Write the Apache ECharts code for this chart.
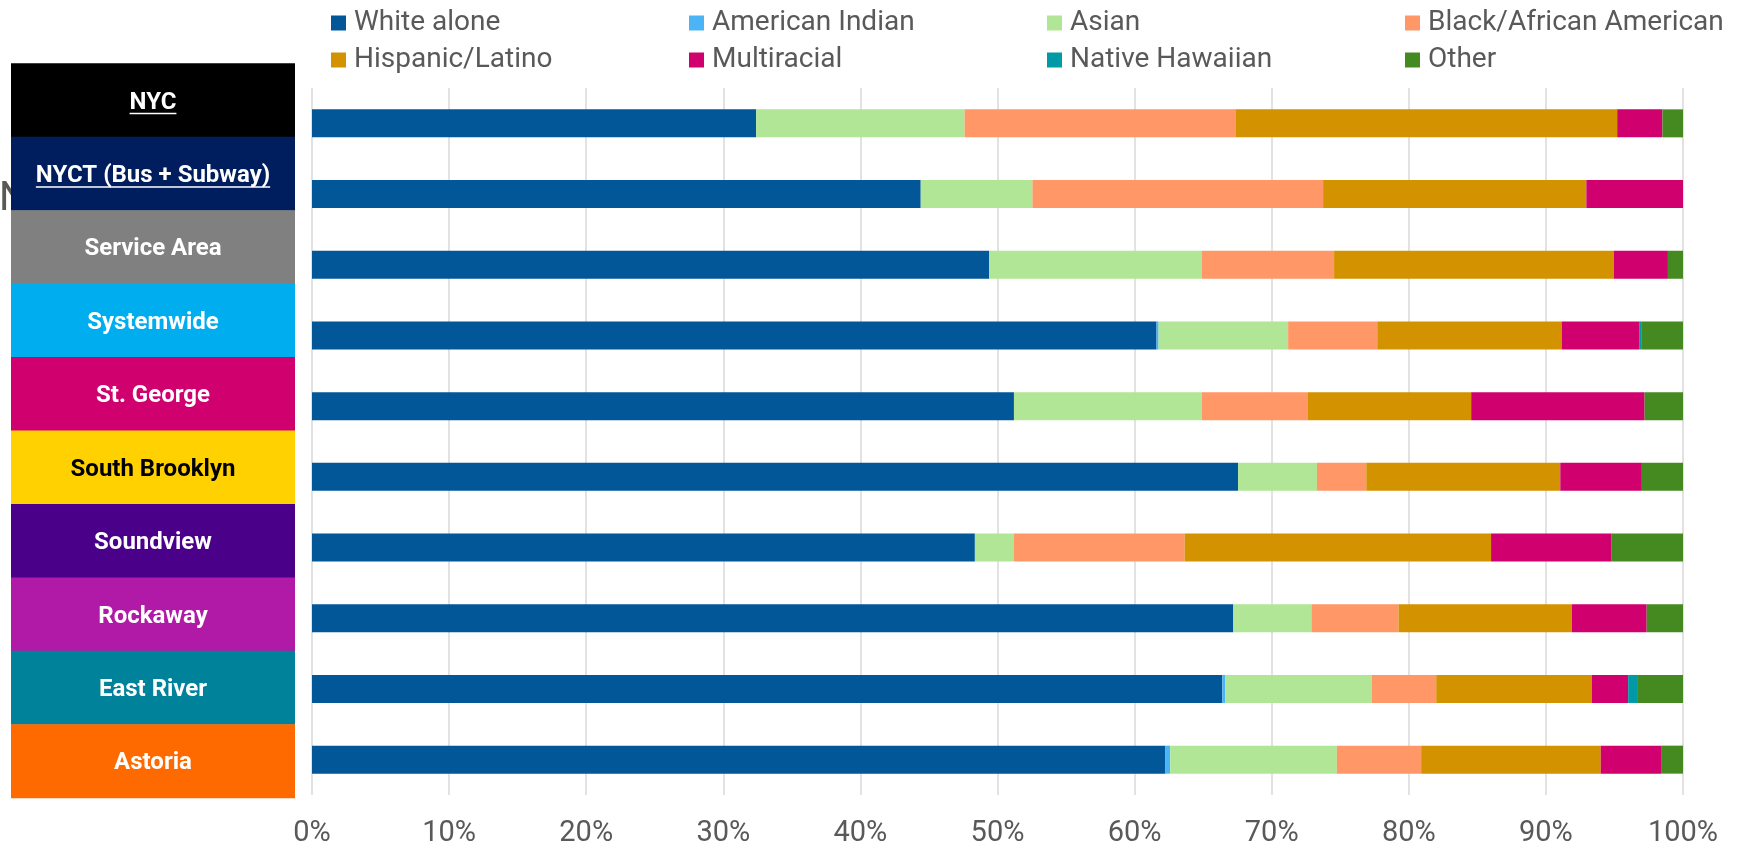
<!DOCTYPE html>
<html>
<head>
<meta charset="utf-8">
<title>Ridership by race/ethnicity</title>
<script src="https://cdn.jsdelivr.net/npm/echarts@6/dist/echarts.min.js"></script>
<style>
  html, body { margin: 0; padding: 0; background: #fff; }
  #chart { width: 1748px; height: 848px; }
</style>
</head>
<body>
<div id="chart"></div>
<script>
// Categories, top to bottom
const categories = ['NYC', 'NYCT (Bus + Subway)', 'Service Area', 'Systemwide', 'St. George',
  'South Brooklyn', 'Soundview', 'Rockaway', 'East River', 'Astoria'];

// Share of riders (%) per group
const whiteAlone     = [32.4, 44.4, 49.4, 61.6, 51.2, 67.55, 48.35, 67.2, 66.4, 62.25];
const americanIndian = [0, 0, 0, 0.15, 0, 0, 0, 0, 0.2, 0.35];
const asian          = [15.2, 8.15, 15.5, 9.45, 13.7, 5.75, 2.85, 5.7, 10.7, 12.15];
const blackAfrican   = [19.75, 21.2, 9.65, 6.5, 7.7, 3.6, 12.45, 6.35, 4.7, 6.15];
const hispanicLatino = [27.85, 19.2, 20.4, 13.45, 11.95, 14.15, 22.35, 12.65, 11.35, 13.1];
const multiracial    = [3.3, 7.05, 3.95, 5.65, 12.65, 5.95, 8.8, 5.45, 2.65, 4.4];
const nativeHawaiian = [0, 0, 0, 0.2, 0, 0, 0, 0, 0.65, 0];
const other          = [1.5, 0, 1.1, 3.0, 2.8, 3.0, 5.2, 2.65, 3.35, 1.6];

const seriesNames = ['White alone', 'American Indian', 'Asian', 'Black/African American',
  'Hispanic/Latino', 'Multiracial', 'Native Hawaiian', 'Other'];
const seriesData = [whiteAlone, americanIndian, asian, blackAfrican,
  hispanicLatino, multiracial, nativeHawaiian, other];
const seriesColors = ['#015798', '#4AB4F5', '#B0E695', '#FF9767',
  '#D39200', '#D0006F', '#0099A6', '#448A21'];

// Axis tick values
const xTicks = { min: 0, max: 100, interval: 10 };

// Category badge colours
const badgeFill = ['#000000', '#001E5E', '#808080', '#00AEEF', '#D0006F',
  '#FFD100', '#4A0089', '#B01AA7', '#00829B', '#FF6A00'];
const badgeText = ['#fff', '#fff', '#fff', '#fff', '#fff', '#000', '#fff', '#fff', '#fff', '#fff'];
const underlined = [true, true, false, false, false, false, false, false, false, false];

const FONT = 'Roboto, "Noto Sans", sans-serif';
const chart = echarts.init(document.getElementById('chart'), null, { renderer: 'canvas' });

// Legend: two rows of four fixed columns
const legendCols = [326, 684, 1042, 1400];
const legendRows = [4, 41];
const legends = seriesNames.map((name, i) => ({
  data: [name],
  left: legendCols[i % 4],
  top: legendRows[Math.floor(i / 4)],
  icon: 'rect',
  itemWidth: 15,
  itemHeight: 15,
  itemGap: 0,
  selectedMode: false,
  textStyle: { fontFamily: FONT, fontSize: 28, color: '#595959', padding: [0, 0, 0, 3] }
}));

// Category badges down the left side
const badgeLeft = 11, badgeRight = 295, badgeTop = 63.3, badgeH = 73.44;
const badgeFont = 'bold 24px ' + FONT;
const measure = document.createElement('canvas').getContext('2d');
measure.font = badgeFont;
const graphics = [{
  type: 'text', z: 1, left: -1, top: 180,
  style: { text: 'NYCT', font: '40px ' + FONT, fill: '#595959' }
}];
categories.forEach((name, i) => {
  const y0 = badgeTop + i * badgeH;
  const cx = (badgeLeft + badgeRight) / 2;
  const cy = y0 + badgeH / 2 + 2.5;
  graphics.push({
    type: 'rect', z: 5,
    shape: { x: badgeLeft, y: y0, width: badgeRight - badgeLeft, height: badgeH + 0.5 },
    style: { fill: badgeFill[i] }
  });
  graphics.push({
    type: 'text', z: 6, x: cx, y: cy,
    style: { text: name, font: badgeFont, fill: badgeText[i], align: 'center', verticalAlign: 'middle' }
  });
  if (underlined[i]) {
    const w = measure.measureText(name).width;
    graphics.push({
      type: 'line', z: 6,
      shape: { x1: cx - w / 2, y1: cy + 11, x2: cx + w / 2, y2: cy + 11 },
      style: { stroke: badgeText[i], lineWidth: 1.6 }
    });
  }
});

chart.setOption({
  animation: false,
  backgroundColor: '#ffffff',
  textStyle: { fontFamily: FONT },
  legend: legends,
  grid: { left: 312, right: 65, top: 88, height: 708, containLabel: false },
  xAxis: {
    type: 'value',
    min: xTicks.min, max: xTicks.max, interval: xTicks.interval,
    axisLine: { show: false },
    axisTick: { show: false },
    splitLine: { show: true, lineStyle: { color: '#D9D9D9', width: 1.5 } },
    axisLabel: { formatter: '{value}%', fontFamily: FONT, fontSize: 29, color: '#595959', margin: 24 }
  },
  yAxis: {
    type: 'category',
    data: categories,
    inverse: true,
    axisLine: { show: false },
    axisTick: { show: false },
    axisLabel: { show: false },
    splitLine: { show: false }
  },
  series: seriesNames.map((name, i) => ({
    name: name,
    type: 'bar',
    stack: 'share',
    barWidth: 28,
    data: seriesData[i],
    itemStyle: { color: seriesColors[i] },
    emphasis: { disabled: true }
  })),
  graphic: graphics
});
</script>
</body>
</html>
